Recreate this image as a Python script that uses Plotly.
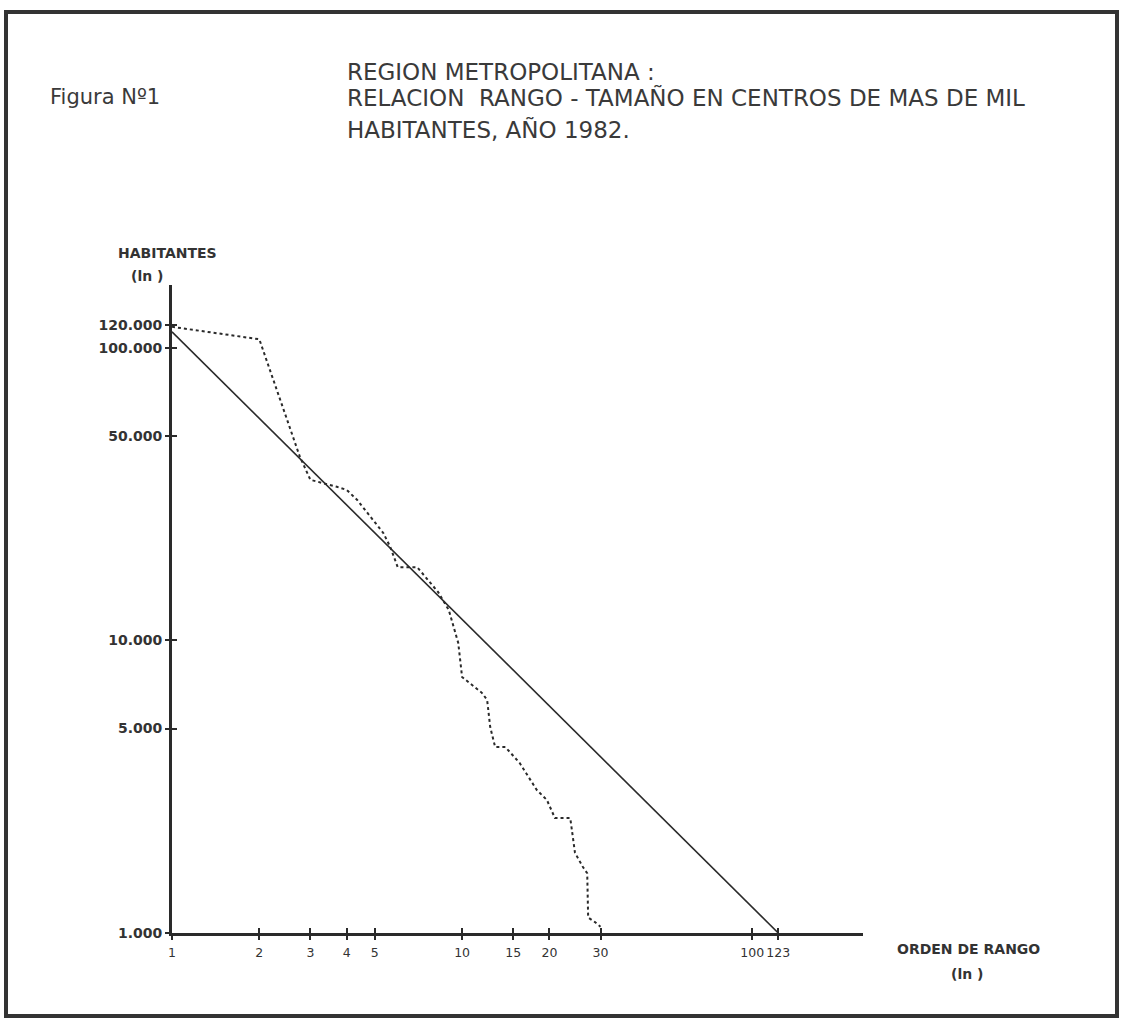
import plotly.graph_objects as go
import math

# ---------------- data ----------------
# observed rank-size (dotted trace, read from the figure)
rank_obs = [1, 2, 2.76, 3, 3.7, 4, 4.35, 5.35, 5.65, 6, 7, 8.26, 9, 9.2, 9.7, 10,
            10.8, 11.7, 12.2, 12.5, 13, 14.1, 15.8, 18.1, 19.6, 20.9, 23.6, 24.5,
            26.1, 27, 27.2, 28.7, 30]
pop_obs = [118000, 107000, 42400, 35400, 33500, 32700, 30200, 23300, 20900, 17800,
           17800, 14650, 12700, 11750, 9800, 7500, 7050, 6620, 6260, 5060, 4320,
           4320, 3810, 3080, 2850, 2470, 2470, 1880, 1680, 1600, 1130, 1090, 1050]

# theoretical rank-size line
rank_fit = [1, 123]
pop_fit = [113500, 1000]

x_tickvals = [1, 2, 3, 4, 5, 10, 15, 20, 30, 100, 123]
x_ticktext = ["1", "2", "3", "4", "5", "10", "15", "20", "30", "100", "123"]
y_tickvals = [1000, 5000, 10000, 50000, 100000, 120000]
y_ticktext = ["1.000", "5.000", "10.000", "50.000", "100.000", "120.000"]

title_lines = ["REGION METROPOLITANA :",
               "RELACION  RANGO - TAMAÑO EN CENTROS DE MAS DE MIL",
               "HABITANTES, AÑO 1982."]
fig_label = "Figura Nº1"
y_title = "HABITANTES"
x_title = "ORDEN DE RANGO"
ln_label = "(ln )"

# ---------------- layout geometry ----------------
W, H = 1123, 1021
L, R_EDGE, T, B_EDGE = 172, 863, 285, 933
PW, PH = R_EDGE - L, B_EDGE - T


def px(X):
    return (X - L) / PW


def py(Y):
    return (B_EDGE - Y) / PH


INK = "#2a2a2a"

fig = go.Figure()

fig.add_trace(go.Scatter(x=rank_fit, y=pop_fit, mode="lines",
                         line=dict(color=INK, width=1.6), showlegend=False,
                         hoverinfo="skip"))
fig.add_trace(go.Scatter(x=rank_obs, y=pop_obs, mode="lines",
                         line=dict(color=INK, width=2, dash="dot"),
                         showlegend=False, hoverinfo="skip"))
# invisible trace to host the overlay axes (inner half of the crossing ticks)
fig.add_trace(go.Scatter(x=[1], y=[1000], xaxis="x2", yaxis="y2", mode="markers",
                         marker=dict(opacity=0), showlegend=False, hoverinfo="skip"))

ytick_font = dict(family="DejaVu Sans", size=14, color="#333333", weight="bold")
xtick_font = dict(family="DejaVu Sans", size=12.5, color="#333333")

xr = [0, math.log10(241)]
yr = [3, math.log10(164000)]

fig.update_layout(
    width=W, height=H, autosize=False,
    margin=dict(l=L, r=W - R_EDGE, t=T, b=H - B_EDGE, pad=0),
    paper_bgcolor="white", plot_bgcolor="white",
    xaxis=dict(type="log", range=xr, showgrid=False, zeroline=False,
               showline=True, linewidth=3, linecolor=INK,
               tickmode="array", tickvals=x_tickvals, ticktext=x_ticktext,
               tickangle=0,
               ticks="outside", ticklen=4, tickwidth=1.5, tickcolor=INK,
               tickfont=xtick_font, ticklabelstandoff=2),
    yaxis=dict(type="log", range=yr, showgrid=False, zeroline=False,
               showline=True, linewidth=3, linecolor=INK,
               tickmode="array", tickvals=y_tickvals, ticktext=y_ticktext,
               ticks="outside", ticklen=4, tickwidth=1.5, tickcolor=INK,
               tickfont=ytick_font, ticklabelstandoff=0),
    xaxis2=dict(type="log", range=xr, overlaying="x", anchor="y2", side="bottom",
                showgrid=False, zeroline=False, showline=False,
                tickmode="array", tickvals=x_tickvals, ticks="inside",
                ticklen=5, tickwidth=1.5, tickcolor=INK, showticklabels=False),
    yaxis2=dict(type="log", range=yr, overlaying="y", anchor="x2", side="left",
                showgrid=False, zeroline=False, showline=False,
                tickmode="array", tickvals=y_tickvals, ticks="inside",
                ticklen=5, tickwidth=1.5, tickcolor=INK, showticklabels=False),
)

# frame around the page
fig.add_shape(type="rect", xref="paper", yref="paper",
              x0=px(6), x1=px(1117), y0=py(1016), y1=py(12),
              line=dict(color="#333333", width=4), fillcolor="rgba(0,0,0,0)")

title_font = dict(family="DejaVu Sans", size=23, color="#3a3a3a")
for txt, yy in zip(title_lines, [72, 97, 129]):
    fig.add_annotation(text=txt, xref="paper", yref="paper", x=px(345), y=py(yy),
                       xanchor="left", yanchor="middle", showarrow=False,
                       font=title_font)

fig.add_annotation(text=fig_label, xref="paper", yref="paper", x=px(48), y=py(97),
                   xanchor="left", yanchor="middle", showarrow=False,
                   font=dict(family="DejaVu Sans", size=21, color="#3a3a3a"))

lab_font = dict(family="DejaVu Sans", size=14, color="#333333", weight="bold")
fig.add_annotation(text=y_title, xref="paper", yref="paper", x=px(167), y=py(253),
                   xanchor="center", yanchor="middle", showarrow=False, font=lab_font)
fig.add_annotation(text=ln_label, xref="paper", yref="paper", x=px(147), y=py(276),
                   xanchor="center", yanchor="middle", showarrow=False, font=lab_font)
fig.add_annotation(text=x_title, xref="paper", yref="paper", x=px(968), y=py(949),
                   xanchor="center", yanchor="middle", showarrow=False, font=lab_font)
fig.add_annotation(text=ln_label, xref="paper", yref="paper", x=px(967), y=py(974),
                   xanchor="center", yanchor="middle", showarrow=False, font=lab_font)

fig.write_html("out.html", config={"displayModeBar": False},
               post_script="document.body.style.margin='0';")
